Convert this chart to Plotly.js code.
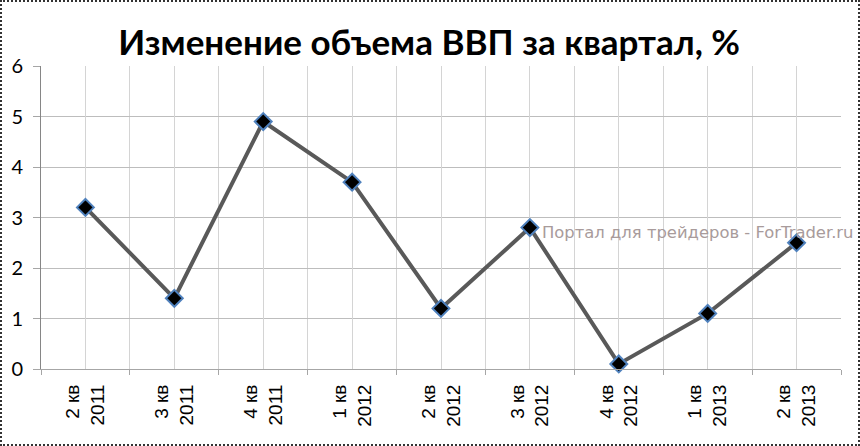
<!DOCTYPE html>
<html>
<head>
<meta charset="utf-8">
<script src="https://cdn.plot.ly/plotly-3.0.1.min.js"></script>
<style>
  html, body { margin: 0; padding: 0; background: #fff; overflow: hidden; }
  #frame { position: absolute; left: 0; top: 0; width: 856px; height: 442px; border: 2px dotted #333; overflow: hidden; }
  #myDiv { position: absolute; left: -2px; top: -2px; width: 860px; height: 446px; }
</style>
</head>
<body>
<div id="frame"><div id="myDiv"></div></div>
<script>
const quarters = ["2 кв<br>2011", "3 кв<br>2011", "4 кв<br>2011", "1 кв<br>2012", "2 кв<br>2012", "3 кв<br>2012", "4 кв<br>2012", "1 кв<br>2013", "2 кв<br>2013"];
const gdpChange = [3.2, 1.4, 4.9, 3.7, 1.2, 2.8, 0.1, 1.1, 2.5];
const yTicks = [0, 1, 2, 3, 4, 5, 6];
const chartTitle = "Изменение объема ВВП за квартал, %";
const watermark = "Портал для трейдеров - ForTrader.ru";

const gdpLine = {
  x: quarters,
  y: gdpChange,
  type: "scatter",
  mode: "lines+markers",
  line: { color: "#595959", width: 4 },
  marker: { symbol: "diamond", size: 13, color: "#000", line: { color: "#4f81bd", width: 2 } },
  cliponaxis: false
};

// второй слой только ради вертикальных линий по центрам категорий
const centerGrid = {
  x: [0],
  y: [0],
  xaxis: "x2",
  type: "scatter",
  mode: "none",
  hoverinfo: "skip"
};

const layout = {
  width: 860,
  height: 446,
  margin: { l: 41, r: 19, t: 65.5, b: 76.5, pad: 0 },
  paper_bgcolor: "rgba(0,0,0,0)",
  plot_bgcolor: "#fff",
  showlegend: false,
  title: {
    text: "<b>" + chartTitle + "</b>",
    font: { family: "Lato, Open Sans, sans-serif", size: 35, color: "#000" },
    x: 0.499, xanchor: "center",
    y: 0.905, yanchor: "middle"
  },
  xaxis: {
    type: "category",
    tickson: "boundaries",
    range: [-0.5, 8.5],
    tickangle: -90,
    ticks: "outside",
    ticklen: 5,
    tickwidth: 1,
    tickcolor: "#a6a6a6",
    showgrid: true,
    gridcolor: "#d4d4d4",
    gridwidth: 1,
    showline: true,
    linecolor: "#a6a6a6",
    linewidth: 1,
    zeroline: false,
    ticklabelstandoff: 7,
    tickfont: { family: "Liberation Sans, sans-serif", size: 19, color: "#000" }
  },
  xaxis2: {
    overlaying: "x",
    side: "top",
    range: [-0.5, 8.5],
    tick0: 0,
    dtick: 1,
    showgrid: true,
    gridcolor: "#d4d4d4",
    gridwidth: 1,
    showticklabels: false,
    ticks: "",
    zeroline: false,
    showline: false
  },
  yaxis: {
    range: [0, 6],
    tickvals: yTicks,
    ticks: "outside",
    ticklen: 7,
    tickwidth: 1,
    tickcolor: "#a6a6a6",
    showgrid: true,
    gridcolor: "#bdbdbd",
    gridwidth: 1,
    showline: true,
    linecolor: "#868686",
    linewidth: 1,
    zeroline: false,
    ticklabelstandoff: 6,
    tickfont: { family: "Lato, Open Sans, sans-serif", size: 20, color: "#000" }
  },
  annotations: [{
    text: watermark,
    xref: "paper", yref: "paper",
    x: 1.0185, y: 0.4507,
    xanchor: "right", yanchor: "middle",
    showarrow: false,
    font: { family: "DejaVu Sans, sans-serif", size: 16.4, color: "#a89b9b" }
  }]
};

Plotly.newPlot("myDiv", [centerGrid, gdpLine], layout, { displayModeBar: false, staticPlot: true });
</script>
</body>
</html>
